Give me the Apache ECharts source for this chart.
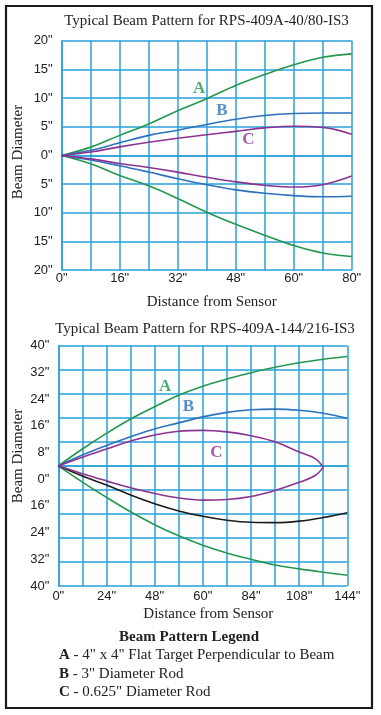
<!DOCTYPE html>
<html><head><meta charset="utf-8">
<script src="https://cdn.jsdelivr.net/npm/echarts@6/dist/echarts.min.js"></script>
<style>html,body{margin:0;padding:0;background:#fff;}#c{width:381px;height:715px;}</style>
</head><body><div id="c"></div>
<script>
// ---- Top chart (RPS-409A-40/80-IS3) ----
const topTitle = 'Typical Beam Pattern for RPS-409A-40/80-IS3';
const topX = [0, 8, 16, 24, 32, 40, 48, 56, 64, 72, 80];
const topAUpper = [0, 1.45, 3.5, 5.5, 7.8, 9.9, 12.2, 14.1, 15.8, 17.1, 17.7];
const topALower = [0, -1.45, -3.5, -5.3, -7.5, -9.9, -12.0, -13.9, -15.7, -17.0, -17.6];
const topBUpper = [0, 0.9, 2.2, 3.5, 4.4, 5.4, 6.3, 6.95, 7.3, 7.4, 7.4];
const topBLower = [0, -0.8, -1.8, -2.9, -4.05, -5.1, -6.0, -6.6, -7.0, -7.2, -7.1];
const topCUpper = [0, 0.6, 1.5, 2.3, 3.0, 3.6, 4.2, 4.8, 5.1, 4.9, 3.7];
const topCLower = [0, -0.6, -1.4, -2.1, -2.9, -3.8, -4.6, -5.2, -5.5, -5.1, -3.6];
const topXLabels = ['0"', '', '16"', '', '32"', '', '48"', '', '60"', '', '80"'];
const topYLabels = ['20"', '15"', '10"', '5"', '0"', '5"', '10"', '15"', '20"']; // top to bottom
const topLetterPos = [[37.9, 11.6], [44.2, 7.8], [51.5, 2.7]];

// ---- Bottom chart (RPS-409A-144/216-IS3) ----
const botTitle = 'Typical Beam Pattern for RPS-409A-144/216-IS3';
const botX = [0, 12, 24, 36, 48, 60, 72, 84, 96, 108, 120, 132, 144];
const botAUpper = [0, 5.6, 10.8, 15.6, 19.7, 23.5, 26.5, 28.9, 31.0, 32.8, 34.3, 35.5, 36.4];
const botALower = [0, -5.4, -10.5, -15.3, -19.6, -23.3, -26.4, -29.0, -31.1, -33.0, -34.3, -35.4, -36.4];
const botBUpper = [0, 3.6, 6.8, 9.7, 12.3, 14.3, 16.3, 17.8, 18.7, 18.9, 18.5, 17.5, 15.8];
const botBLower = [0, -3.4, -6.4, -9.7, -12.6, -15.0, -16.8, -18.1, -18.8, -18.9, -18.4, -17.2, -15.6];
const botCX = [0, 12, 24, 36, 48, 60, 72, 84, 96, 108, 120, 128, 132];
const botCUpper = [0, 2.9, 5.6, 8.3, 10.3, 11.5, 11.8, 11.3, 10.0, 8.0, 4.6, 2.4, -0.5];
const botCLower = [0, -2.6, -5.0, -7.3, -9.2, -10.7, -11.4, -11.2, -10.2, -8.2, -5.5, -3.2, -0.5];
const botXLabels = ['0"', '', '24"', '', '48"', '', '60"', '', '84"', '', '108"', '', '144"'];
const botYLabels = ['40"', '32"', '24"', '16"', '8"', '0"', '16"', '24"', '32"', '40"']; // top to bottom, evenly spread
const botLetterPos = [[53.2, 26.3], [64.8, 19.6], [78.8, 4.5]];

const letters = ['A', 'B', 'C'];
const legendTitle = 'Beam Pattern Legend';
const legendItems = [
  ['A', ' - 4" x 4" Flat Target Perpendicular to Beam'],
  ['B', ' - 3" Diameter Rod'],
  ['C', ' - 0.625" Diameter Rod']
];
const yName = 'Beam Diameter';
const xName = 'Distance from Sensor';

const GREEN = '#23974f', BLUE = '#2c72bd', PURPLE = '#8b3391', BLACK = '#1c1c1c', GRID = '#2aa0d9';
const SERIF = '"Liberation Serif", "Times New Roman", serif';
const SANS = '"Liberation Sans", Arial, sans-serif';

function pairs(xs, ys) { return ys.map((y, i) => [xs[i], y]); }
function line(name, xs, ys, color, gi) {
  return { name, type: 'line', xAxisIndex: gi, yAxisIndex: gi === 0 ? 0 : 1, data: pairs(xs, ys),
    smooth: 0.4, symbol: 'none', lineStyle: { color, width: 1.6 }, silent: true, z: 3 };
}
function lettersSeries(pos, gi) {
  const cols = [GREEN, BLUE, PURPLE];
  return { type: 'scatter', xAxisIndex: gi, yAxisIndex: gi === 0 ? 0 : 1, symbolSize: 0, silent: true, z: 5,
    data: pos.map((p, i) => ({ value: p, label: { show: true, position: 'inside', formatter: letters[i],
      color: cols[i], fontFamily: SERIF, fontWeight: 'bold', fontSize: 17 } })) };
}

const chart = echarts.init(document.getElementById('c'), null, { renderer: 'canvas' });
const axisLineStyle = { color: GRID, width: 1.5 };
const option = {
  animation: false,
  backgroundColor: '#fff',
  grid: [
    { left: 61.7, top: 40.7, width: 290, height: 229.5 },
    { left: 58.3, top: 345.7, width: 289, height: 240.3 }
  ],
  xAxis: [
    { type: 'value', gridIndex: 0, min: 0, max: 80, interval: 8,
      axisLine: { lineStyle: axisLineStyle }, axisTick: { show: false },
      splitLine: { show: true, lineStyle: axisLineStyle },
      axisLabel: { margin: 2, color: '#222', fontFamily: SANS, fontSize: 13,
        formatter: v => topXLabels[Math.round(v / 8)] || '' },
      name: xName, nameLocation: 'middle', nameGap: 24,
      nameTextStyle: { fontFamily: SERIF, fontSize: 15, color: '#222', padding: [0, 0, 0, 10] } },
    { type: 'value', gridIndex: 1, min: 0, max: 144, interval: 12,
      axisLine: { lineStyle: axisLineStyle }, axisTick: { show: false },
      splitLine: { show: true, lineStyle: axisLineStyle },
      axisLabel: { margin: 4, color: '#222', fontFamily: SANS, fontSize: 13,
        formatter: v => botXLabels[Math.round(v / 12)] || '' },
      name: xName, nameLocation: 'middle', nameGap: 21,
      nameTextStyle: { fontFamily: SERIF, fontSize: 15, color: '#222', padding: [0, 0, 0, 11] } }
  ],
  yAxis: [
    { type: 'value', gridIndex: 0, min: -20, max: 20, interval: 5,
      axisLine: { show: true, lineStyle: axisLineStyle }, axisTick: { show: false },
      splitLine: { show: true, lineStyle: axisLineStyle },
      axisLabel: { margin: 9, color: '#222', fontFamily: SANS, fontSize: 13,
        formatter: v => topYLabels[Math.round((20 - v) / 5)] } },
    { type: 'value', gridIndex: 1, min: -40, max: 40, interval: 8,
      axisLine: { show: true, lineStyle: axisLineStyle }, axisTick: { show: false },
      splitLine: { show: true, lineStyle: axisLineStyle },
      axisLabel: { show: false } },
    { type: 'value', gridIndex: 1, min: 0, max: 9, interval: 1, position: 'left',
      axisLine: { show: false }, axisTick: { show: false }, splitLine: { show: false },
      axisLabel: { margin: 9, color: '#222', fontFamily: SANS, fontSize: 13,
        formatter: v => botYLabels[9 - Math.round(v)] } }
  ],
  series: [
    line('A upper', topX, topAUpper, GREEN, 0),
    line('A lower', topX, topALower, GREEN, 0),
    line('B upper', topX, topBUpper, BLUE, 0),
    line('B lower', topX, topBLower, BLUE, 0),
    line('C upper', topX, topCUpper, PURPLE, 0),
    line('C lower', topX, topCLower, PURPLE, 0),
    lettersSeries(topLetterPos, 0),
    line('A upper', botX, botAUpper, GREEN, 1),
    line('A lower', botX, botALower, GREEN, 1),
    line('B upper', botX, botBUpper, BLUE, 1),
    line('B lower', botX, botBLower, BLACK, 1),
    line('C upper', botCX, botCUpper, PURPLE, 1),
    line('C lower', botCX, botCLower, PURPLE, 1),
    lettersSeries(botLetterPos, 1)
  ],
  graphic: [
    { type: 'rect', shape: { x: 6, y: 6, width: 366, height: 702 }, style: { fill: 'none', stroke: '#1a1a1a', lineWidth: 2.2 }, z: 10 },
    { type: 'text', x: 206.5, y: 21, style: { text: topTitle, fontFamily: SERIF, fontSize: 15, fill: '#222', align: 'center', verticalAlign: 'middle' } },
    { type: 'text', x: 205, y: 329, style: { text: botTitle, fontFamily: SERIF, fontSize: 15, fill: '#222', align: 'center', verticalAlign: 'middle' } },
    { type: 'text', x: 18, y: 152, rotation: Math.PI / 2, style: { text: yName, fontFamily: SERIF, fontSize: 15, fill: '#222', align: 'center', verticalAlign: 'middle' } },
    { type: 'text', x: 18, y: 456, rotation: Math.PI / 2, style: { text: yName, fontFamily: SERIF, fontSize: 15, fill: '#222', align: 'center', verticalAlign: 'middle' } },
    { type: 'text', x: 189, y: 637, style: { text: legendTitle, fontFamily: SERIF, fontSize: 15, fontWeight: 'bold', fill: '#222', align: 'center', verticalAlign: 'middle' } }
  ].concat(legendItems.map((it, i) => ({
    type: 'text', x: 59, y: 655.5 + i * 18.3,
    style: { text: '{b|' + it[0] + '}' + it[1], fontFamily: SERIF, fontSize: 15, fill: '#222', align: 'left', verticalAlign: 'middle',
      rich: { b: { fontFamily: SERIF, fontSize: 15, fontWeight: 'bold', fill: '#222' } } }
  })))
};
chart.setOption(option);
</script>
</body></html>
